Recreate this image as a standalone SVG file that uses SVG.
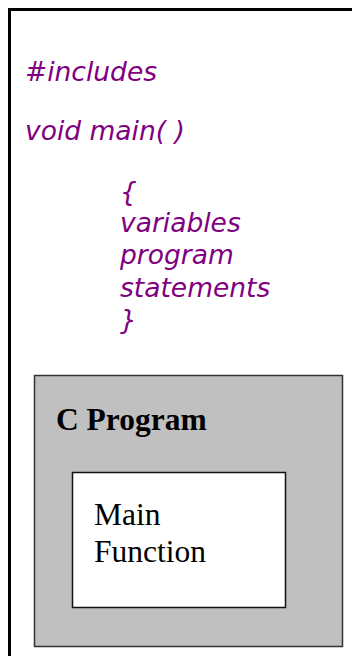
<svg xmlns="http://www.w3.org/2000/svg" width="352" height="656" viewBox="0 0 352 656">
<style>
.code{font-family:"DejaVu Sans",Verdana,sans-serif;font-style:italic;font-size:26.5px;fill:#800080}
.title{font-family:"Liberation Serif","Times New Roman",serif;font-weight:bold;font-size:31.5px;fill:#000}
.label{font-family:"Liberation Serif","Times New Roman",serif;font-size:31.5px;fill:#000}
</style>
<rect width="352" height="656" fill="#fff"/>
<g id="frame">
<path d="M9.5 665 V9.5 H360" fill="none" stroke="#000" stroke-width="3"/>
</g>
<g id="code">
<text class="code" x="25" y="81">#includes</text>
<text class="code" x="25" y="140">void main( )</text>
<text class="code" x="120" y="201">{</text>
<text class="code" x="120" y="232">variables</text>
<text class="code" x="120" y="264">program</text>
<text class="code" x="120" y="297">statements</text>
<text class="code" x="120" y="329">}</text>
</g>
<g id="c-program">
<rect x="34.5" y="375.5" width="308" height="271" fill="#c0c0c0" stroke="#333" stroke-width="1.5"/>
<text class="title" x="56" y="430">C Program</text>
</g>
<g id="main-function">
<rect x="72.5" y="472.5" width="213" height="135" fill="#fff" stroke="#111" stroke-width="1.5"/>
<text class="label" x="94" y="525">Main</text>
<text class="label" x="94" y="562">Function</text>
</g>
</svg>
